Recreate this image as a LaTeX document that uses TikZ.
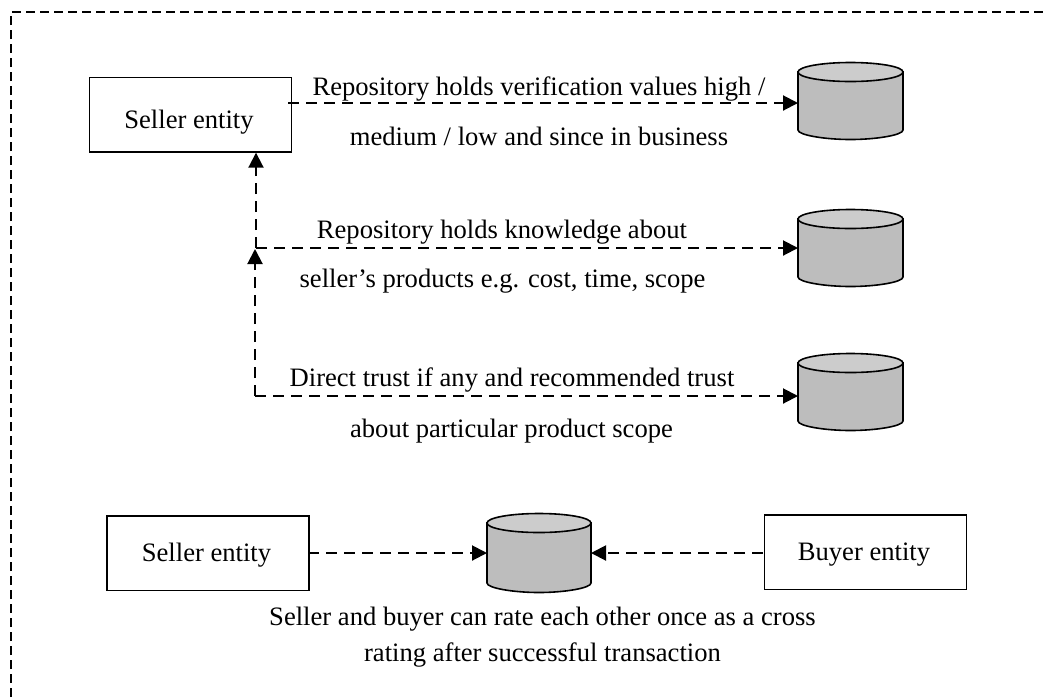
\documentclass[tikz,border=0pt]{standalone}
\usepackage{fontspec}
\setmainfont{Liberation Serif}
\usetikzlibrary{arrows.meta}
\tikzset{
  x=1pt,y=-1pt,
  box/.style={draw=black,line width=1.7pt,fill=white,minimum width=#1,minimum height=74.5pt,inner sep=0pt},
  lab/.style={font=\fontsize{26.6}{30}\selectfont,inner sep=0pt,anchor=base},
  flow/.style={line width=2pt,dash pattern=on 11pt off 7pt,-{Triangle[length=15pt,width=15pt]}},
  drumline/.style={line width=1.6pt,draw=black},
}
% \drum{name}{left x}{top-ellipse centre y}{width}{height}
\newcommand{\drum}[5]{%
  \coordinate (#1-w) at (#2,#3+#5/2);
  \coordinate (#1-e) at (#2+#4,#3+#5/2);
  \draw[drumline,fill=black!26] (#2,#3) -- (#2,#3+#5) .. controls (#2,#3+#5+5) and (#2+#4/4,#3+#5+9.5) .. (#2+#4/2,#3+#5+9.5) .. controls (#2+#4*3/4,#3+#5+9.5) and (#2+#4,#3+#5+5) .. (#2+#4,#3+#5) -- (#2+#4,#3) -- cycle;
  \draw[drumline,fill=black!20] (#2+#4/2,#3) ellipse[x radius=#4/2,y radius=9.5];
}
\begin{document}
\begin{tikzpicture}
\useasboundingbox (0,0) rectangle (1046,697);
\draw[line width=1.6pt,dash pattern=on 9pt off 5pt] (11,697) -- (11,12) -- (1046,12);

\node[box=202pt,anchor=north west] (s1) at (88.5,76.5) {};
\node[lab] at (189,128) {Seller entity};
\node[box=202pt,anchor=north west] (s2) at (106,515) {};
\node[lab] at (206.5,561) {Seller entity};
\node[box=202pt,anchor=north west] (b) at (763.5,514) {};
\node[lab] at (864,560) {Buyer entity};

\drum{d1}{798}{72}{105}{58}
\drum{d2}{798}{219}{105}{58}
\drum{d3}{798}{363}{105}{58}
\drum{d4}{487}{523}{104}{60}

\coordinate (j2) at (256,248);
\coordinate (j3) at (255,396);
\coordinate (h1) at (288,103);
\coordinate (h4) at (308,553);
\coordinate (h5) at (763,553);
\coordinate (k1) at (255,249);
\draw[flow] (h1) -- (d1-w |- h1);
\draw[flow] (j2) -- (d2-w |- j2);
\draw[flow] (j3) -- (d3-w |- j3);
\draw[flow] (j2) -- (j2 |- s1.south);
\draw[flow] (j3) -- (k1);
\draw[flow] (h4) -- (d4-w |- h4);
\draw[flow] (h5) -- (d4-e |- h5);

\node[lab] at (539,95) {Repository holds verification values high /};
\node[lab] at (539,145) {medium / low and since in business};
\node[lab] at (502,238) {Repository holds knowledge about};
\node[lab] at (502.5,287) {seller’s products e.g. cost, time, scope};
\node[lab] at (512,386) {Direct trust if any and recommended trust};
\node[lab] at (511.5,437) {about particular product scope};
\node[lab] at (542.5,625) {Seller and buyer can rate each other once as a cross};
\node[lab] at (542.5,661) {rating after successful transaction};
\end{tikzpicture}
\end{document}
